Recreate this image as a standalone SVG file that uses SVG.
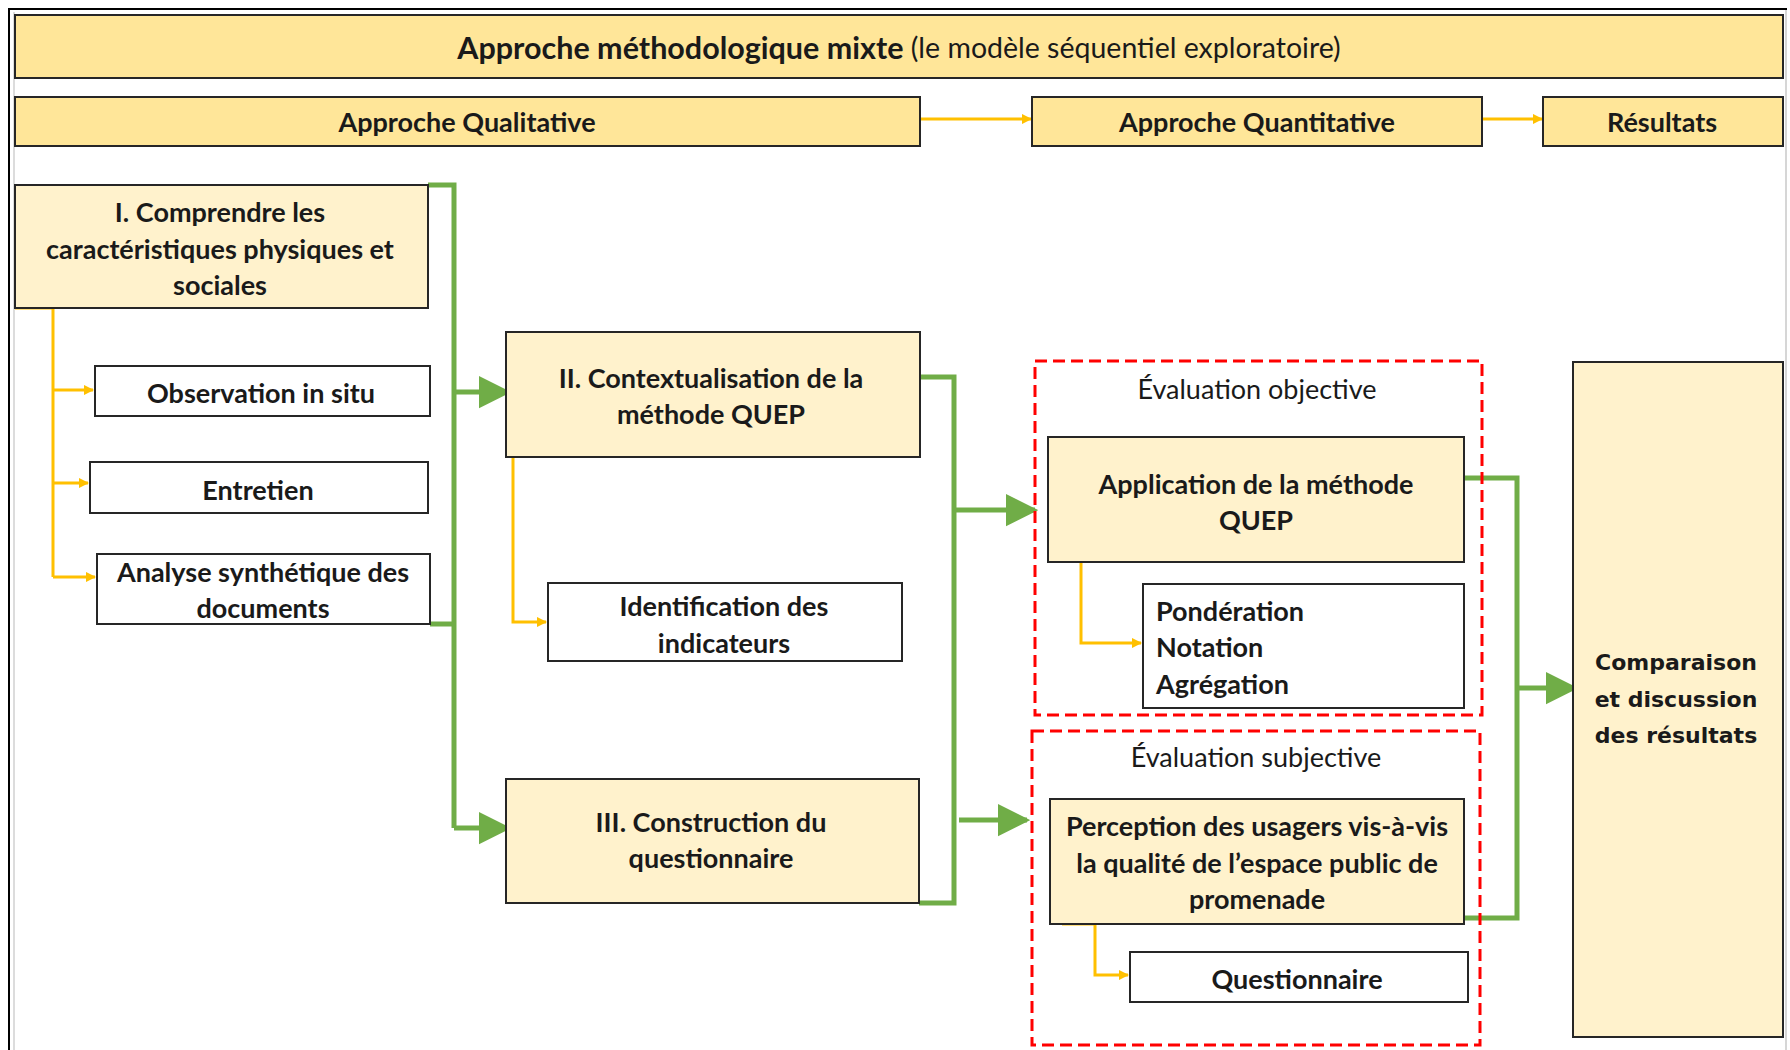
<svg xmlns="http://www.w3.org/2000/svg" width="1790" height="1050" viewBox="0 0 1790 1050">
<style>
.hdr{fill:#FFE699;stroke:#262626;stroke-width:2}
.nd{fill:#FFF2CC;stroke:#262626;stroke-width:2}
.wt{fill:#FFFFFF;stroke:#262626;stroke-width:2}
.dash{fill:none;stroke:#FF0000;stroke-width:3;stroke-dasharray:12 6}
.t{font-family:Lato,"Liberation Sans",sans-serif;font-weight:bold;font-size:27px;fill:#1a1a1a;text-anchor:middle;dominant-baseline:central}
.tt{font-size:30.5px}
.tl{text-anchor:start}
.tn{font-weight:normal}
.tv{font-family:"DejaVu Sans",Verdana,sans-serif;font-size:22px}
.g{fill:none;stroke:#70AD47;stroke-width:5}
.y{fill:none;stroke:#FFC000;stroke-width:3}
</style>
<defs>
<marker id="ga" viewBox="0 0 10 10" refX="9" refY="5" markerWidth="6.5" markerHeight="8" markerUnits="strokeWidth" orient="auto"><path d="M0,0 L10,5 L0,10 z" fill="#70AD47"/></marker>
<marker id="ya" viewBox="0 0 10 10" refX="9" refY="5" markerWidth="3.5" markerHeight="3.5" markerUnits="strokeWidth" orient="auto"><path d="M0,0 L10,5 L0,10 z" fill="#FFC000"/></marker>
</defs>
<rect x="0" y="0" width="1790" height="1050" fill="#FFFFFF"/>
<path d="M9,1050 V9 H1787" fill="none" stroke="#000" stroke-width="2"/>
<line x1="14" y1="12" x2="14" y2="1050" stroke="#D0D0D0" stroke-width="1.5"/>
<line x1="1786" y1="10" x2="1786" y2="1050" stroke="#C8C8C8" stroke-width="1.5"/>

<g id="connectors">
<line class="y" x1="920" y1="119" x2="1031" y2="119" marker-end="url(#ya)"/>
<line class="y" x1="1482" y1="119" x2="1542" y2="119" marker-end="url(#ya)"/>
<path class="y" d="M15,308 H53 V577"/>
<line class="y" x1="53" y1="390" x2="93" y2="390" marker-end="url(#ya)"/>
<line class="y" x1="53" y1="483" x2="88" y2="483" marker-end="url(#ya)"/>
<line class="y" x1="53" y1="577" x2="95" y2="577" marker-end="url(#ya)"/>
<path class="y" d="M513,457 V622 H546" marker-end="url(#ya)"/>
<path class="y" d="M1081,562 V643 H1141" marker-end="url(#ya)"/>
<path class="y" d="M1062,924 H1095 V975 H1128" marker-end="url(#ya)"/>
<path class="g" d="M428,185 H454 V828"/>
<line class="g" x1="430" y1="624" x2="454" y2="624"/>
<line class="g" x1="454" y1="392" x2="508" y2="392" marker-end="url(#ga)"/>
<line class="g" x1="454" y1="828" x2="508" y2="828" marker-end="url(#ga)"/>
<path class="g" d="M920,377 H954 V903 H919"/>
<line class="g" x1="954" y1="510" x2="1035" y2="510" marker-end="url(#ga)"/>
<line class="g" x1="959" y1="820" x2="1027" y2="820" marker-end="url(#ga)"/>
<path class="g" d="M1464,478 H1517 V918 H1464"/>
<line class="g" x1="1517" y1="688" x2="1575" y2="688" marker-end="url(#ga)"/>
</g>

<g id="title"><rect class="hdr" x="15" y="15" width="1768" height="63"/>
<text class="t" x="899" y="47"><tspan class="tt">Approche méthodologique mixte</tspan><tspan class="tn" style="font-size:28.5px"> (le modèle séquentiel exploratoire)</tspan></text></g>
<g id="qual"><rect class="hdr" x="15" y="97" width="905" height="49"/><text class="t" x="467" y="121">Approche Qualitative</text></g>
<g id="quant"><rect class="hdr" x="1032" y="97" width="450" height="49"/><text class="t" x="1257" y="121">Approche Quantitative</text></g>
<g id="resultats"><rect class="hdr" x="1543" y="97" width="240" height="49"/><text class="t" x="1662" y="121">Résultats</text></g>

<g id="n1"><rect class="nd" x="15" y="185" width="413" height="123"/>
<text class="t" x="220" y="211">I. Comprendre les</text>
<text class="t" x="220" y="248">caractéristiques physiques et</text>
<text class="t" x="220" y="284">sociales</text></g>
<g id="obs"><rect class="wt" x="95" y="366" width="335" height="50"/><text class="t" x="261" y="392">Observation in situ</text></g>
<g id="ent"><rect class="wt" x="90" y="462" width="338" height="51"/><text class="t" x="258" y="489">Entretien</text></g>
<g id="ana"><rect class="wt" x="97" y="554" width="333" height="70"/>
<text class="t" x="263" y="571">Analyse synthétique des</text><text class="t" x="263" y="607">documents</text></g>

<g id="n2"><rect class="nd" x="506" y="332" width="414" height="125"/>
<text class="t" x="711" y="377">II. Contextualisation de la</text><text class="t" x="711" y="413">méthode QUEP</text></g>
<g id="ind"><rect class="wt" x="548" y="583" width="354" height="78"/>
<text class="t" x="724" y="605">Identification des</text><text class="t" x="724" y="642">indicateurs</text></g>
<g id="n3"><rect class="nd" x="506" y="779" width="413" height="124"/>
<text class="t" x="711" y="821">III. Construction du</text><text class="t" x="711" y="857">questionnaire</text></g>

<g id="obj"><rect class="dash" x="1035" y="361" width="447" height="354"/>
<text class="t tn" x="1257" y="388">Évaluation objective</text></g>
<g id="app"><rect class="nd" x="1048" y="437" width="416" height="125"/>
<text class="t" x="1256" y="483">Application de la méthode</text><text class="t" x="1256" y="519">QUEP</text></g>
<g id="pond"><rect class="wt" x="1143" y="584" width="321" height="124"/>
<text class="t tl" x="1156" y="610">Pondération</text><text class="t tl" x="1156" y="646">Notation</text><text class="t tl" x="1156" y="683">Agrégation</text></g>

<g id="subj"><rect class="dash" x="1032" y="731" width="448" height="314"/>
<text class="t tn" x="1256" y="756">Évaluation subjective</text></g>
<g id="perc"><rect class="nd" x="1050" y="799" width="414" height="125"/>
<text class="t" x="1257" y="825">Perception des usagers vis-à-vis</text><text class="t" x="1257" y="862">la qualité de l’espace public de</text><text class="t" x="1257" y="898">promenade</text></g>
<g id="quest"><rect class="wt" x="1130" y="952" width="338" height="50"/><text class="t" x="1297" y="978">Questionnaire</text></g>

<g id="comp"><rect class="nd" x="1573" y="362" width="210" height="675"/>
<text class="t tv" x="1676" y="662">Comparaison</text><text class="t tv" x="1676" y="699">et discussion</text><text class="t tv" x="1676" y="735">des résultats</text></g>
</svg>
